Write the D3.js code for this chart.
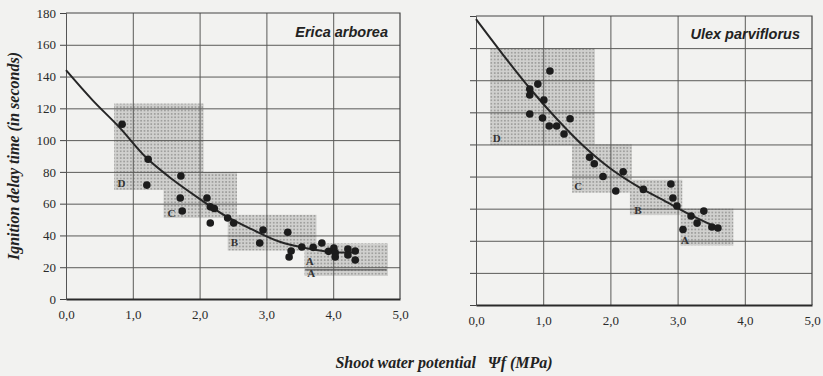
<!DOCTYPE html>
<html>
<head>
<meta charset="utf-8">
<script src="https://cdn.jsdelivr.net/npm/d3@7"></script>
<style>
  body { margin: 0; background: #f3f3f1; }
  svg { display: block; }
</style>
</head>
<body>
<div id="chart"></div>
<script>
// values
const xTickValues = [0, 1, 2, 3, 4, 5];
const yTickValues = [0, 20, 40, 60, 80, 100, 120, 140, 160, 180];

const ericaPoints = [
  [0.84, 110], [1.23, 88], [1.72, 77.4], [1.21, 71.7], [1.71, 63.6], [2.11, 63.6],
  [1.74, 55.4], [2.16, 58], [2.22, 57], [2.16, 47.8], [2.42, 51], [2.51, 47.8],
  [2.95, 43.4], [3.32, 42], [2.9, 35.2], [3.37, 30.2], [3.34, 26.4], [3.53, 32.7],
  [3.7, 32.5], [3.83, 35.2], [3.93, 30], [4.01, 32], [4.03, 29], [4.03, 26.5],
  [4.22, 31.5], [4.22, 27.7], [4.33, 30.2], [4.33, 24.5]
];
const ericaCurve = [
  [0, 144], [0.4, 125], [0.8, 108], [1.2, 89], [1.6, 75], [2.0, 63], [2.4, 52],
  [2.8, 43.5], [3.2, 36], [3.6, 32], [4.0, 29.5], [4.3, 29.5]
];
const ericaZones = [
  { name: "D", x0: 0.72, x1: 2.06, y0: 68.6, y1: 123, lx: 0.83, ly: 73 },
  { name: "C", x0: 1.46, x1: 2.56, y0: 51, y1: 80, lx: 1.58, ly: 54 },
  { name: "B", x0: 2.42, x1: 3.75, y0: 30.5, y1: 53, lx: 2.52, ly: 36 },
  { name: "A", x0: 3.57, x1: 4.82, y0: 14.5, y1: 35, lx: 3.65, ly: 24 }
];
const ericaExtraLabels = [{ name: "A", lx: 3.67, ly: 16.2 }];
const ericaRefLine = [[3.58, 18.3], [4.8, 18.3]];

const ulexPoints = [
  [1.10, 145.7], [0.92, 137.6], [0.8, 134.5], [0.8, 130.8], [1.01, 127.7], [0.8, 119],
  [0.99, 116.5], [1.4, 116], [1.09, 111.5], [1.2, 111.5], [1.31, 106.5], [1.69, 92],
  [1.76, 88], [1.89, 80], [2.19, 83], [2.08, 71], [2.49, 72], [2.9, 75.4],
  [2.93, 66.6], [2.99, 61.7], [3.2, 55.4], [3.39, 58.5], [3.29, 51], [3.08, 47],
  [3.51, 48.6], [3.6, 48]
];
const ulexCurve = [
  [0, 178], [0.4, 156], [0.8, 135], [1.2, 116], [1.6, 99], [2.0, 85], [2.4, 74],
  [2.8, 65], [3.2, 56], [3.6, 48]
];
const ulexZones = [
  { name: "D", x0: 0.21, x1: 1.77, y0: 99.6, y1: 160, lx: 0.31, ly: 104 },
  { name: "C", x0: 1.43, x1: 2.32, y0: 70, y1: 100, lx: 1.52, ly: 74 },
  { name: "B", x0: 2.29, x1: 3.07, y0: 56, y1: 78, lx: 2.41, ly: 59 },
  { name: "A", x0: 3.04, x1: 3.83, y0: 37, y1: 60, lx: 3.11, ly: 40.5 }
];

const width = 823, height = 376;

const svg = d3.select("#chart").append("svg")
  .attr("width", width)
  .attr("height", height);

svg.append("rect")
  .attr("width", width)
  .attr("height", height)
  .attr("fill", "#f2f2f0");

// halftone fill for the zones
const pat = svg.append("defs").append("pattern")
  .attr("id", "stipple")
  .attr("patternUnits", "userSpaceOnUse")
  .attr("width", 3.4)
  .attr("height", 3.4);
pat.append("rect").attr("width", 3.4).attr("height", 3.4).attr("fill", "#d0d0ce");
pat.append("circle").attr("cx", 1.7).attr("cy", 1.7).attr("r", 0.9).attr("fill", "#949492");

const serif = "Liberation Serif, DejaVu Serif, serif";
const sans = "Liberation Sans, Arial, sans-serif";

function drawPanel(cfg) {
  const x = d3.scaleLinear().domain([0, 5]).range(cfg.xRange);
  const y = d3.scaleLinear().domain([0, 180]).range(cfg.yRange);
  const g = svg.append("g");

  // zones
  g.selectAll(".zone")
    .data(cfg.zones)
    .enter().append("rect")
    .attr("class", "zone")
    .attr("x", d => x(d.x0))
    .attr("y", d => y(d.y1))
    .attr("width", d => x(d.x1) - x(d.x0))
    .attr("height", d => y(d.y0) - y(d.y1))
    .attr("fill", "url(#stipple)");

  // grid, done with axes so the lines land on the pixel grid
  const hGrid = g.append("g")
    .attr("transform", `translate(${x(0)},0)`)
    .call(d3.axisLeft(y)
      .tickValues(yTickValues.filter(v => v > 0 && v < 180))
      .tickSize(-(cfg.xRange[1] - cfg.xRange[0]))
      .tickFormat(""));
  hGrid.select(".domain").remove();
  hGrid.selectAll(".tick line").attr("stroke", "#5a5a58");

  const vGrid = g.append("g")
    .attr("transform", `translate(0,${y(0)})`)
    .call(d3.axisBottom(x)
      .tickValues(xTickValues.filter(v => v > 0 && v < 5))
      .tickSize(-(cfg.yRange[0] - cfg.yRange[1]))
      .tickFormat(""));
  vGrid.select(".domain").remove();
  vGrid.selectAll(".tick line").attr("stroke", "#5a5a58");

  // left axis with outside ticks
  const ya = g.append("g")
    .attr("transform", `translate(${x(0)},0)`)
    .call(d3.axisLeft(y)
      .tickValues(yTickValues)
      .tickSize(6)
      .tickPadding(4)
      .tickFormat(cfg.yLabels ? d3.format("d") : ""))
    .attr("font-family", serif)
    .attr("font-size", 13);
  ya.select(".domain").attr("stroke", "#555");
  ya.selectAll(".tick line").attr("stroke", "#444");
  ya.selectAll(".tick text").attr("fill", "#2a2a2a");

  // bottom axis
  const xa = g.append("g")
    .attr("transform", `translate(0,${y(0)})`)
    .call(d3.axisBottom(x)
      .tickValues(xTickValues)
      .tickSize(0)
      .tickPadding(11)
      .tickFormat(d => d.toFixed(1).replace(".", ",")))
    .attr("font-family", serif)
    .attr("font-size", 13);
  xa.select(".domain").attr("stroke", "#2a2a2a").attr("stroke-width", 1.8);
  xa.selectAll(".tick text").attr("fill", "#2a2a2a");

  // top / right frame
  g.append("path")
    .attr("d", `M${x(0)},${y(180)}H${x(5)}V${y(0)}`)
    .attr("fill", "none")
    .attr("stroke", "#444")
    .attr("stroke-width", 1.2);

  // extra reference line
  if (cfg.refLine) {
    g.append("path")
      .attr("d", d3.line().x(d => x(d[0])).y(d => y(d[1]))(cfg.refLine))
      .attr("stroke", "#555")
      .attr("stroke-width", 1.2);
  }

  // zone letters
  g.selectAll(".zlabel")
    .data(cfg.zones.concat(cfg.extraLabels || []))
    .enter().append("text")
    .attr("class", "zlabel")
    .attr("x", d => x(d.lx))
    .attr("y", d => y(d.ly))
    .attr("dy", "0.35em")
    .attr("text-anchor", "middle")
    .attr("fill", "#333")
    .attr("font-family", serif)
    .attr("font-weight", "bold")
    .attr("font-size", 11)
    .text(d => d.name);

  // fitted curve
  g.append("path")
    .datum(cfg.curve)
    .attr("fill", "none")
    .attr("stroke", "#262626")
    .attr("stroke-width", 2)
    .attr("d", d3.line()
      .x(d => x(d[0]))
      .y(d => y(d[1]))
      .curve(d3.curveCatmullRom));

  // points
  g.selectAll(".dot")
    .data(cfg.points)
    .enter().append("circle")
    .attr("class", "dot")
    .attr("cx", d => x(d[0]))
    .attr("cy", d => y(d[1]))
    .attr("r", 3.8)
    .attr("fill", "#1c1c1c");

  // species name
  g.append("text")
    .attr("x", cfg.titlePos[0])
    .attr("y", cfg.titlePos[1])
    .attr("text-anchor", "end")
    .attr("fill", "#222")
    .attr("font-family", sans)
    .attr("font-style", "italic")
    .attr("font-weight", "bold")
    .attr("font-size", 14.5)
    .text(cfg.title);
}

drawPanel({
  title: "Erica arborea",
  titlePos: [388, 37],
  xRange: [66, 400],
  yRange: [299, 13],
  yLabels: true,
  zones: ericaZones,
  extraLabels: ericaExtraLabels,
  refLine: ericaRefLine,
  curve: ericaCurve,
  points: ericaPoints
});

drawPanel({
  title: "Ulex parviflorus",
  titlePos: [800, 39],
  xRange: [476, 812],
  yRange: [305, 16],
  yLabels: false,
  zones: ulexZones,
  curve: ulexCurve,
  points: ulexPoints
});

// axis titles
svg.append("text")
  .attr("transform", "translate(19,156) rotate(-90)")
  .attr("text-anchor", "middle")
  .attr("fill", "#222")
  .attr("font-family", serif)
  .attr("font-style", "italic")
  .attr("font-weight", "bold")
  .attr("font-size", 16)
  .text("Ignition delay time (in seconds)");

svg.append("text")
  .attr("x", 444)
  .attr("y", 368)
  .attr("text-anchor", "middle")
  .attr("fill", "#222")
  .attr("font-family", serif)
  .attr("font-style", "italic")
  .attr("font-weight", "bold")
  .attr("font-size", 16)
  .style("white-space", "pre")
  .text("Shoot water potential   \u03A8f (MPa)");
</script>
</body>
</html>
